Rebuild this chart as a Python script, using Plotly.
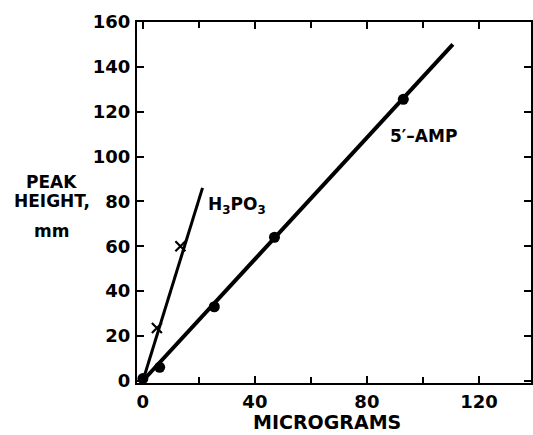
import plotly.graph_objects as go

# 5'-AMP calibration data (micrograms vs peak height, mm)
amp_x = [0, 6, 25.5, 47, 93]
amp_y = [1, 6, 33, 64, 125.5]
amp_line_x = [0, 110.7]
amp_line_y = [0, 150]

# H3PO3 calibration data
h3_x = [5, 13.4]
h3_y = [23.5, 60]
h3_line_x = [0, 21.3]
h3_line_y = [0, 86]

x_tickvals = [0, 40, 80, 120]
x_ticktext = ["0", "40", "80", "120"]
y_tickvals = [0, 20, 40, 60, 80, 100, 120, 140, 160]

FONT = "DejaVu Sans"

fig = go.Figure()
fig.add_trace(go.Scatter(x=amp_line_x, y=amp_line_y, mode="lines",
                         line=dict(color="black", width=4), showlegend=False))
fig.add_trace(go.Scatter(x=amp_x, y=amp_y, mode="markers",
                         marker=dict(color="black", size=11, symbol="circle"),
                         showlegend=False))
fig.add_trace(go.Scatter(x=h3_line_x, y=h3_line_y, mode="lines",
                         line=dict(color="black", width=3), showlegend=False))
fig.add_trace(go.Scatter(x=h3_x, y=h3_y, mode="markers",
                         marker=dict(color="black", size=10, symbol="x-thin",
                                     line=dict(color="black", width=2.2)),
                         showlegend=False))

axis_common = dict(showline=True, linewidth=2, linecolor="black", mirror="ticks",
                   ticks="inside", ticklen=7, tickwidth=2, tickcolor="black",
                   showgrid=False, zeroline=False, automargin=False,
                   tickfont=dict(family=FONT, size=18, color="black", weight="bold"))

fig.update_xaxes(range=[-2.1, 138.6], tickvals=x_tickvals, ticktext=x_ticktext,
                 minor=dict(dtick=20, tick0=0, ticks="inside", ticklen=6, tickwidth=2,
                            tickcolor="black", showgrid=False),
                 ticklabelstandoff=1, **axis_common)
fig.update_yaxes(range=[-1, 160], tickvals=y_tickvals, ticklabelstandoff=1,
                 **axis_common)

ann_font = dict(family=FONT, size=17, color="black", weight="bold")
for txt, yy in [("PEAK", 0.557), ("HEIGHT,", 0.504), ("mm", 0.421)]:
    fig.add_annotation(x=-0.216, y=yy, xref="paper", yref="paper", text=txt,
                       showarrow=False, font=ann_font, xanchor="center", yanchor="middle")
fig.add_annotation(x=22.5, y=78, xref="x", yref="y", text="H<sub>3</sub>PO<sub>3</sub>",
                   showarrow=False, font=ann_font, xanchor="left", yanchor="middle")
fig.add_annotation(x=87.5, y=109, xref="x", yref="y", text="5\u2032\u2013AMP",
                   showarrow=False, font=ann_font, xanchor="left", yanchor="middle")
fig.add_annotation(x=0.482, y=-0.108, xref="paper", yref="paper", text="MICROGRAMS",
                   showarrow=False, font=dict(family=FONT, size=19, color="black", weight="bold"),
                   xanchor="center", yanchor="middle")

fig.update_layout(width=533, height=435, margin=dict(l=137, r=2, t=22, b=52, autoexpand=False),
                  paper_bgcolor="white", plot_bgcolor="white")

fig.write_html("out.html", config={"responsive": False, "displayModeBar": False},
               post_script="document.body.style.margin='0px';"
                           "document.body.style.overflow='hidden';"
                           "Plotly.relayout(document.getElementById('{plot_id}'), {width: 533, height: 435});")
